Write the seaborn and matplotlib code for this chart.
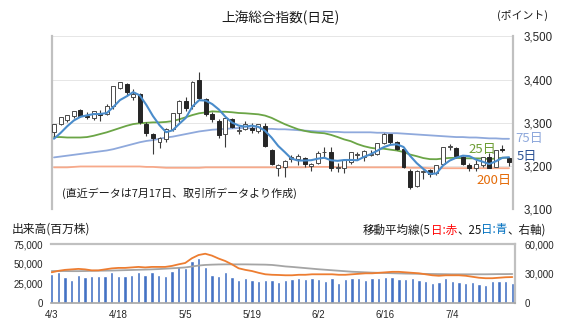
import matplotlib
matplotlib.use("Agg")
import matplotlib.pyplot as plt
import seaborn as sns
import pandas as pd

# ---------------- data ----------------
dates = ["4/3", "4/4", "4/6", "4/7", "4/10", "4/11", "4/12", "4/13", "4/14", "4/17",
         "4/18", "4/19", "4/20", "4/21", "4/24", "4/25", "4/26", "4/27", "4/28", "5/4",
         "5/5", "5/8", "5/9", "5/10", "5/11", "5/12", "5/15", "5/16", "5/17", "5/18",
         "5/19", "5/22", "5/23", "5/24", "5/25", "5/26", "5/29", "5/30", "5/31", "6/1",
         "6/2", "6/5", "6/6", "6/7", "6/8", "6/9", "6/12", "6/13", "6/14", "6/15",
         "6/16", "6/19", "6/20", "6/21", "6/26", "6/27", "6/28", "6/29", "6/30", "7/3",
         "7/4", "7/5", "7/6", "7/7", "7/10", "7/11", "7/12", "7/13", "7/14", "7/17"]

opens = [3279, 3297, 3306, 3315, 3329, 3315, 3312, 3320, 3320, 3338,
         3381, 3389, 3359, 3366, 3298, 3274, 3255, 3262, 3285, 3322,
         3350, 3338, 3399, 3354, 3321, 3304, 3273, 3308, 3282, 3285,
         3287, 3281, 3293, 3237, 3195, 3198, 3216, 3216, 3219, 3199,
         3207, 3232, 3232, 3196, 3196, 3210, 3226, 3221, 3226, 3228,
         3253, 3273, 3255, 3240, 3189, 3153, 3186, 3190, 3183, 3205,
         3243, 3242, 3222, 3203, 3195, 3203, 3220, 3198, 3239, 3218]
highs = [3297, 3313, 3318, 3328, 3333, 3326, 3328, 3330, 3343, 3386,
         3395, 3391, 3378, 3368, 3302, 3276, 3268, 3287, 3323, 3352,
         3359, 3397, 3418, 3358, 3326, 3308, 3312, 3312, 3293, 3304,
         3300, 3298, 3299, 3240, 3205, 3213, 3225, 3227, 3222, 3206,
         3234, 3243, 3243, 3206, 3214, 3232, 3232, 3236, 3238, 3254,
         3276, 3275, 3258, 3243, 3194, 3190, 3190, 3193, 3203, 3245,
         3252, 3245, 3223, 3206, 3214, 3222, 3230, 3238, 3248, 3222]
lows = [3268, 3295, 3301, 3310, 3313, 3309, 3306, 3305, 3317, 3333,
        3378, 3362, 3353, 3298, 3270, 3229, 3242, 3256, 3282, 3303,
        3328, 3333, 3353, 3316, 3301, 3265, 3245, 3287, 3274, 3283,
        3277, 3276, 3245, 3203, 3176, 3175, 3210, 3202, 3197, 3188,
        3204, 3221, 3189, 3187, 3185, 3205, 3214, 3212, 3224, 3226,
        3251, 3252, 3236, 3196, 3146, 3152, 3170, 3174, 3180, 3203,
        3238, 3219, 3203, 3188, 3188, 3197, 3196, 3198, 3233, 3200]
closes = [3296.4, 3312.6, 3317.0, 3327.7, 3315.4, 3313.6, 3327.2, 3318.4, 3338.2, 3385.6,
          3393.3, 3370.1, 3367.0, 3301.3, 3275.4, 3264.9, 3264.1, 3285.9, 3323.3, 3350.5,
          3334.5, 3395.0, 3357.7, 3319.2, 3309.6, 3272.4, 3310.7, 3291.0, 3284.2, 3297.3,
          3283.5, 3296.5, 3246.2, 3204.8, 3201.3, 3212.5, 3221.5, 3224.2, 3204.6, 3204.6,
          3230.1, 3232.4, 3195.3, 3197.9, 3213.6, 3231.4, 3228.8, 3233.7, 3229.0, 3253.0,
          3273.3, 3255.8, 3240.4, 3197.9, 3150.6, 3189.4, 3189.4, 3182.4, 3202.1, 3244.0,
          3245.4, 3223.0, 3205.6, 3196.6, 3203.7, 3221.4, 3196.1, 3236.5, 3237.7, 3209.6]

ma5 = [3263.2, 3276.6, 3292.0, 3305.3, 3313.8, 3317.2, 3320.2, 3320.4, 3322.5, 3336.6,
       3352.5, 3361.1, 3370.9, 3363.5, 3341.4, 3315.7, 3294.5, 3278.3, 3282.7, 3297.7,
       3311.6, 3337.8, 3352.2, 3351.4, 3343.2, 3330.7, 3313.9, 3300.6, 3293.6, 3291.1,
       3293.4, 3290.5, 3281.6, 3265.7, 3246.5, 3232.2, 3217.2, 3212.8, 3212.8, 3213.5,
       3217.0, 3219.2, 3213.4, 3212.1, 3213.9, 3214.1, 3213.4, 3221.1, 3227.3, 3235.2,
       3243.6, 3249.0, 3250.3, 3244.1, 3223.6, 3206.8, 3193.5, 3181.9, 3182.8, 3201.4,
       3212.6, 3219.3, 3224.0, 3222.9, 3214.9, 3210.1, 3204.7, 3210.9, 3219.1, 3220.3]
ma25 = [3267, 3267, 3266, 3266, 3266, 3267, 3270, 3274, 3278, 3283,
        3288, 3293, 3297, 3299, 3300, 3301, 3301, 3302, 3304, 3308,
        3313, 3318, 3322, 3324, 3326.5, 3325.6, 3325.5, 3324.4, 3322.7, 3322.0,
        3320.8, 3319.6, 3316.7, 3311.4, 3304.0, 3296.8, 3290.8, 3285.1, 3281.3, 3278.4,
        3277.0, 3275.8, 3272.1, 3267.1, 3261.6, 3257.5, 3250.9, 3245.9, 3242.3, 3240.1,
        3240.1, 3237.9, 3235.9, 3232.4, 3226.6, 3222.8, 3218.5, 3216.0, 3215.8, 3217.5,
        3218.8, 3218.9, 3218.1, 3217.8, 3217.8, 3217.4, 3216.0, 3217.6, 3219.2, 3219.1]
ma75 = [3220, 3222, 3224, 3226, 3228, 3230, 3232, 3234, 3236, 3239,
        3243, 3247, 3251, 3255, 3258, 3260, 3263, 3266, 3268, 3271,
        3274, 3277, 3280, 3282, 3284, 3285, 3286, 3287, 3288, 3288,
        3287, 3287, 3286, 3286, 3285, 3285, 3284, 3283, 3282, 3281,
        3280, 3280, 3279, 3279, 3278, 3278, 3278, 3278, 3278, 3277,
        3277, 3276, 3276, 3275, 3274, 3273, 3272, 3271, 3270, 3269,
        3268, 3267, 3267, 3266, 3266, 3265, 3264, 3264, 3263, 3263]
ma200 = [3197, 3197, 3197, 3198, 3199, 3199, 3199, 3199, 3199, 3199,
         3199, 3199, 3199, 3199, 3198, 3198, 3197, 3196, 3196, 3196,
         3196, 3196, 3196, 3197, 3197, 3197, 3197, 3197, 3197, 3197,
         3197, 3197, 3197, 3197, 3197, 3197, 3197, 3197, 3197, 3198,
         3198, 3198, 3198, 3197, 3197, 3197, 3197, 3197, 3197, 3197,
         3197, 3197, 3197, 3197, 3196, 3196, 3196, 3195, 3195, 3195,
         3195, 3195, 3195, 3195, 3195, 3195, 3195, 3195, 3195, 3195]

volume = [36800, 39300, 33400, 29600, 35500, 33400, 35000, 35000, 34200, 40100,
          35000, 35000, 35800, 39300, 36300, 39300, 35800, 35000, 41400, 47700,
          44400, 54100, 57900, 46500, 35800, 35000, 39300, 33400, 29200, 31700,
          29600, 28300, 29200, 29200, 27400, 29000, 30400, 31700, 30400, 32400,
          30400, 28300, 31700, 26200, 30900, 32400, 32400, 29600, 31700, 32400,
          33800, 33000, 30900, 30900, 31700, 29200, 28300, 26200, 27000, 32400,
          28300, 27400, 25300, 26600, 24500, 23300, 28300, 28300, 28300, 25300]
vol_ma5 = [31500, 33000, 34000, 34500, 35000, 34500, 33500, 33500, 34500, 35500,
           36000, 36000, 36500, 37000, 36500, 37000, 37000, 37000, 38000, 39600,
           41000, 45800, 49100, 50400, 48500, 45500, 43000, 39600, 35600, 34000,
           32800, 31000, 29500, 29000, 28800, 28500, 28500, 29000, 29000, 29500,
           29500, 29500, 29500, 29000, 29000, 29500, 30000, 30500, 30500, 31000,
           31500, 32000, 32000, 31500, 31000, 30500, 29500, 28500, 28000, 28500,
           28500, 28500, 28000, 27000, 26000, 25500, 25500, 26000, 26500, 26700]
vol_ma25 = [32800, 32800, 32800, 32700, 32700, 32800, 33000, 33100, 33200, 33300,
            33500, 33700, 33900, 34100, 34300, 34500, 34800, 35200, 35600, 36000,
            36500, 37400, 38400, 39000, 39300, 39500, 39600, 39600, 39600, 39600,
            39500, 39400, 39300, 39000, 38300, 37500, 37000, 36400, 35800, 35200,
            34600, 34100, 33600, 33100, 32600, 32100, 31800, 31500, 31200, 31000,
            30800, 30600, 30400, 30200, 30100, 30000, 29900, 29800, 29700, 29600,
            29500, 29500, 29500, 29500, 29500, 29500, 29600, 29700, 29700, 29800]

tick_dates = ["4/3", "4/18", "5/5", "5/19", "6/2", "6/16", "7/4"]
price_ticks = [3100, 3200, 3300, 3400, 3500]
vol_ticks_left = [0, 25000, 50000, 75000]
vol_ticks_right = [0, 30000, 60000]

# ---------------- style ----------------
sns.set_theme(style="white")
plt.rcParams["font.family"] = ["Liberation Sans", "Noto Sans CJK JP", "DejaVu Sans"]
JP = ["Noto Sans CJK JP", "DejaVu Sans"]

df = pd.DataFrame({"i": list(range(len(dates))), "date": dates, "open": opens,
                   "high": highs, "low": lows, "close": closes, "ma5": ma5,
                   "ma25": ma25, "ma75": ma75, "ma200": ma200, "vol": volume,
                   "vma5": vol_ma5, "vma25": vol_ma25})

W, H = 567, 334
fig = plt.figure(figsize=(W / 100, H / 100), dpi=100)
fig.patch.set_facecolor("white")


def box(x0, y0, x1, y1):
    return [x0 / W, 1 - y1 / H, (x1 - x0) / W, (y1 - y0) / H]


# ---------------- price panel ----------------
ax = fig.add_axes(box(51.7, 36.3, 512.7, 209.3))
ax.set_facecolor("white")
for y in price_ticks[1:]:
    ax.axhline(y, color="#E6E6E6", lw=0.7, zorder=0)

sns.lineplot(data=df, x="i", y="ma200", ax=ax, color="#F7A98A", lw=1.3, legend=False, zorder=2)
sns.lineplot(data=df, x="i", y="ma75", ax=ax, color="#8FA9DC", lw=1.3, legend=False, zorder=2)
sns.lineplot(data=df, x="i", y="ma25", ax=ax, color="#6BA546", lw=1.3, legend=False, zorder=2)

up = df[df["close"] >= df["open"]]
dn = df[df["close"] < df["open"]]
ax.vlines(df["i"], df["low"], df["high"], color="#3A3A3A", lw=0.8, zorder=3)
ax.bar(up["i"], (up["close"] - up["open"]).clip(lower=0.9), bottom=up["open"],
       width=0.6, color="white", edgecolor="#4A4A4A", linewidth=0.7, zorder=4)
ax.bar(dn["i"], (dn["open"] - dn["close"]).clip(lower=0.9), bottom=dn["close"],
       width=0.6, color="#262626", edgecolor="#262626", linewidth=0.7, zorder=4)

sns.lineplot(data=df, x="i", y="ma5", ax=ax, color="#4A8CCB", lw=1.5, legend=False, zorder=5)

ax.set_xlim(-0.35, 69.56)
ax.set_ylim(3100, 3500)
ax.set_xlabel("")
ax.set_ylabel("")
ax.set_xticks([])
ax.yaxis.tick_right()
ax.set_yticks(price_ticks)
ax.set_yticklabels([f"{v:,}" for v in price_ticks], fontsize=8.3, color="#262626")
ax.tick_params(axis="y", length=0, pad=7.5)
for s in ["top", "bottom"]:
    ax.spines[s].set_visible(False)
for s in ["left", "right"]:
    ax.spines[s].set_color("#C0C0C0")
    ax.spines[s].set_linewidth(1.6)

# MA labels
ax.text(69.9, 3263, "75日", color="#8FA9DC", fontsize=9.5, family=JP, va="center", ha="left", clip_on=False)
ax.text(62.9, 3239, "25日", color="#6E9E35", fontsize=9.5, family=JP, va="center", ha="left", clip_on=False)
ax.text(70.1, 3222, "5日", color="#2F5597", fontsize=9.5, family=JP, va="center", ha="left", clip_on=False)
ax.text(64.1, 3166, "200日", color="#E46C0A", fontsize=9.5, family=JP, va="center", ha="left", clip_on=False)

# ---------------- volume panel ----------------
axv = fig.add_axes(box(50.7, 244.3, 515.0, 303.3))
axv.set_facecolor("white")
sns.barplot(data=df, x="i", y="vol", ax=axv, native_scale=True, color="#4472C4",
            width=0.5, saturation=1, errorbar=None, zorder=2)
axv.set_xlim(-0.15, 69.4)
axv.set_ylim(0, 75000)
axv.set_xlabel("")
axv.set_ylabel("")
axv.set_yticks(vol_ticks_left)
axv.set_yticklabels([f"{v:,}" for v in vol_ticks_left], fontsize=7, color="#262626")
tick_pos = [dates.index(d) for d in tick_dates]
axv.set_xticks(tick_pos)
axv.set_xticklabels(tick_dates, fontsize=7, color="#262626")
axv.tick_params(axis="y", length=0, pad=5.5)
axv.tick_params(axis="x", length=3, width=0.8, color="#A6A6A6", pad=2, direction="out")
axv.spines["left"].set_visible(False)
axv.spines["top"].set_color("#C0C0C0")
axv.spines["top"].set_linewidth(1.6)
axv.spines["right"].set_color("#C0C0C0")
axv.spines["right"].set_linewidth(1.6)
axv.spines["bottom"].set_color("#A6A6A6")
axv.spines["bottom"].set_linewidth(1.2)

axv2 = axv.twinx()
sns.lineplot(data=df, x="i", y="vma25", ax=axv2, color="#A5A5A5", lw=1.3, legend=False)
sns.lineplot(data=df, x="i", y="vma5", ax=axv2, color="#ED7D31", lw=1.3, legend=False)
axv2.set_ylim(0, 60000)
axv2.set_xlim(-0.15, 69.4)
axv2.set_ylabel("")
axv2.set_yticks(vol_ticks_right)
axv2.set_yticklabels([f"{v:,}" for v in vol_ticks_right], fontsize=7, color="#262626")
axv2.tick_params(axis="y", length=0, pad=7)
for s in ["left", "top", "bottom", "right"]:
    axv2.spines[s].set_visible(False)

# ---------------- texts ----------------
fig.text(280 / W, 1 - 18 / H, "上海総合指数(日足)", fontsize=9.8, family=JP,
         ha="center", va="center", color="#1A1A1A")
fig.text(523 / W, 1 - 15 / H, "(ポイント)", fontsize=7.8, family=JP,
         ha="center", va="center", color="#1A1A1A")
fig.text(62 / W, 1 - 193 / H, "(直近データは7月17日、取引所データより作成)", fontsize=7.9,
         family=JP, ha="left", va="center", color="#1A1A1A")
fig.text(12 / W, 1 - 229 / H, "出来高(百万株)", fontsize=8.5, family=JP,
         ha="left", va="center", color="#1A1A1A")

parts = [("移動平均線(5", "#1A1A1A"), ("日:赤", "#FF0000"), ("、25", "#1A1A1A"),
         ("日:青", "#0070C0"), ("、右軸)", "#1A1A1A")]
renderer = fig.canvas.get_renderer()
xcur = 363 / W
for s, c in parts:
    t = fig.text(xcur, 1 - 230 / H, s, fontsize=8.3, family=JP, ha="left",
                 va="center", color=c)
    bb = t.get_window_extent(renderer=renderer)
    xcur = bb.x1 / fig.bbox.width

fig.savefig("out.png", dpi=100, facecolor="white")
